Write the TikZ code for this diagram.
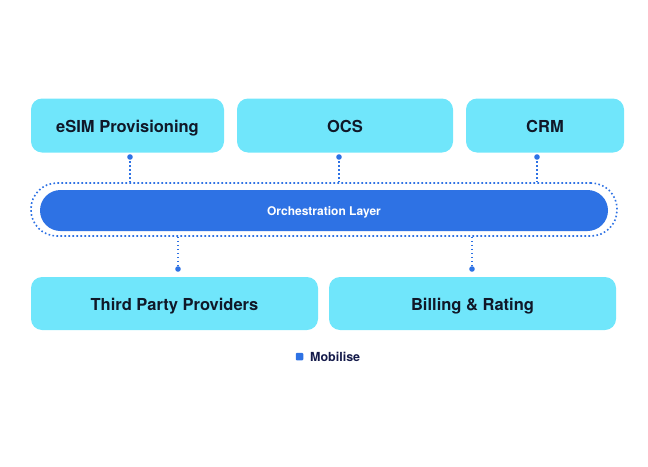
\documentclass[tikz,border=0pt]{standalone}
\usepackage{fontspec}
\setmainfont{TeX Gyre Heros}
\usepackage{xcolor}
\usetikzlibrary{positioning}
\definecolor{boxcyan}{HTML}{70E6FB}
\definecolor{layerblue}{HTML}{2E72E4}
\definecolor{inkdark}{HTML}{101828}
\definecolor{inknavy}{HTML}{141A4A}

\begin{document}
\begin{tikzpicture}[x=1pt,y=-1pt,
  sysbox/.style={fill=boxcyan,rounded corners=11pt,inner sep=0pt,text=inkdark,text height=13pt,text depth=0pt,font=\fontsize{16.5}{18}\selectfont\bfseries},
  linkline/.style={layerblue,line width=1.6pt,dash pattern=on 1.6pt off 2.4pt},
  linkdot/.style={fill=layerblue}]
  \useasboundingbox (0,0) rectangle (648,466);
  % top systems
  \node[sysbox,minimum width=193pt,minimum height=54pt] (esim) at (127.5,125.5) {eSIM Provisioning};
  \node[sysbox,minimum width=216pt,minimum height=54pt] (ocs) at (345,125.5) {OCS};
  \node[sysbox,minimum width=158pt,minimum height=54pt] (crm) at (545,125.5) {CRM};
  % orchestration layer
  \node[draw=layerblue,line width=1.6pt,dash pattern=on 1.6pt off 2.4pt,rounded corners=26pt,minimum width=586pt,minimum height=53pt] (layerout) at (324,209.5) {};
  \node[fill=layerblue,rounded corners=20.5pt,minimum width=568pt,minimum height=41pt,text=white,text height=9pt,text depth=0pt,font=\fontsize{12}{14}\selectfont\bfseries] (layer) at (324,210.5) {Orchestration Layer};
  % bottom systems
  \node[sysbox,minimum width=287pt,minimum height=53pt] (third) at (174.5,303.5) {Third Party Providers};
  \node[sysbox,minimum width=287pt,minimum height=53pt] (billing) at (472.5,303.5) {Billing \& Rating};
  % links up
  \foreach \n/\x in {esim/130,ocs/339,crm/537}{
    \coordinate (d\n) at (\x,157);
    \draw[linkline] (d\n) -- (d\n |- layerout.north);
    \fill[linkdot] (d\n) circle (2.8pt);
  }
  % links down
  \foreach \n/\x in {third/178,billing/472}{
    \coordinate (d\n) at (\x,269);
    \draw[linkline] (layerout.south -| d\n) -- (d\n);
    \fill[linkdot] (d\n) circle (2.8pt);
  }
  % legend
  \node[fill=layerblue,rounded corners=1pt,minimum size=7.5pt,inner sep=0pt] (legsq) at (299.5,356.5) {};
  \node[right=6.5pt of legsq,inner sep=0pt,text=inknavy,font=\fontsize{12.5}{14}\selectfont\bfseries] (legtxt) {Mobilise};
\end{tikzpicture}
\end{document}
